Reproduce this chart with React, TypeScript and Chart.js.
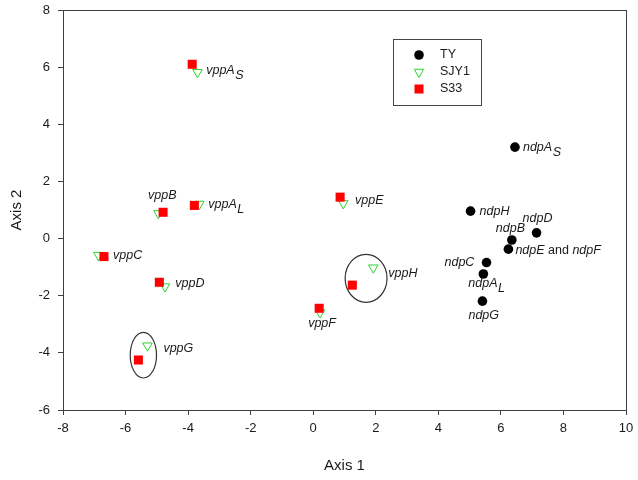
import React, { useEffect, useRef } from 'react';
import { Chart, registerables } from 'chart.js';
Chart.register(...registerables);

const seriesNames = ['TY', 'SJY1', 'S33'];

// TY (ndp genes)
const tyLabels = ['ndpA_S', 'ndpH', 'ndpD', 'ndpB', 'ndpE and ndpF', 'ndpC', 'ndpA_L', 'ndpG'];
const tyX = [6.45, 5.03, 7.14, 6.35, 6.24, 5.54, 5.44, 5.41];
const tyY = [3.2, 0.96, 0.2, -0.05, -0.37, -0.84, -1.24, -2.19];

// vpp genes (SJY1 and S33 share labels)
const vppLabels = ['vppA_S', 'vppB', 'vppA_L', 'vppE', 'vppC', 'vppD', 'vppG', 'vppF', 'vppH'];
const sjyX = [-3.7, -4.95, -3.64, 0.96, -6.87, -4.74, -5.3, 0.22, 1.92];
const sjyY = [5.82, 0.88, 1.21, 1.23, -0.58, -1.68, -3.75, -2.59, -1.02];
const s33X = [-3.87, -4.8, -3.8, 0.86, -6.69, -4.92, -5.59, 0.19, 1.25];
const s33Y = [6.1, 0.92, 1.16, 1.45, -0.63, -1.53, -4.25, -2.44, -1.63];

// ellipses (data units)
const ellipseCX = [-5.43, 1.69];
const ellipseCY = [-4.08, -1.39];
const ellipseRX = [0.42, 0.67];
const ellipseRY = [0.8, 0.84];

const xMin = -8, xMax = 10, yMin = -6, yMax = 8, tickStep = 2;
const xTitle = 'Axis 1';
const yTitle = 'Axis 2';

// label pixel offsets from their point
const tyLabelDX = [8, 9, -14, -16, 7, -42, -15, -14];
const tyLabelDY = [0, 0, -14, -11, 1, 0, 10, 14];
const vppLabelDX = [14, -15, 14, 15, 9, 16, 25, -11, 36];
const vppLabelDY = [6, -17, -1, 3, -1, 1, -11, 15, -12];

const FONT = '"Liberation Sans", Arial, sans-serif';
const TEXT = '#1a1a1a';
const AXIS = '#404040';
const GREEN = '#2bd42b';
const RED = '#ff0000';
const LABEL_SIZE = 12.5;

function drawLabel(ctx: CanvasRenderingContext2D, text: string, x: number, y: number) {
  ctx.save();
  ctx.textBaseline = 'middle';
  ctx.textAlign = 'left';
  ctx.fillStyle = TEXT;
  const words = text.split(' ');
  let cx = x;
  words.forEach((w, i) => {
    const part = (i > 0 ? ' ' : '') + w;
    if (w === 'and') {
      ctx.font = `${LABEL_SIZE}px ${FONT}`;
      ctx.fillText(part, cx, y);
      cx += ctx.measureText(part).width;
      return;
    }
    ctx.font = `italic ${LABEL_SIZE}px ${FONT}`;
    const [main, sub] = part.split('_');
    ctx.fillText(main, cx, y);
    cx += ctx.measureText(main).width;
    if (sub) {
      ctx.fillText(sub, cx + 0.5, y + 5);
      cx += ctx.measureText(sub).width + 0.5;
    }
  });
  ctx.restore();
}

function drawMarker(ctx: CanvasRenderingContext2D, kind: number, x: number, y: number) {
  ctx.save();
  if (kind === 0) {
    ctx.fillStyle = '#000';
    ctx.beginPath();
    ctx.arc(x, y, 4.8, 0, Math.PI * 2);
    ctx.fill();
  } else if (kind === 1) {
    const r = 5.5;
    ctx.strokeStyle = GREEN;
    ctx.lineWidth = 1;
    ctx.beginPath();
    ctx.moveTo(x, y + r);
    ctx.lineTo(x - r * 0.866, y - r / 2);
    ctx.lineTo(x + r * 0.866, y - r / 2);
    ctx.closePath();
    ctx.stroke();
  } else {
    ctx.fillStyle = RED;
    ctx.fillRect(x - 4.5, y - 4.5, 9, 9);
  }
  ctx.restore();
}

const overlayPlugin = {
  id: 'overlay',
  beforeDatasetsDraw(chart: any) {
    const { ctx, scales } = chart;
    const xs = scales.x, ys = scales.y;
    ctx.save();
    ctx.strokeStyle = '#333';
    ctx.lineWidth = 1.2;
    for (let i = 0; i < ellipseCX.length; i++) {
      const cx = xs.getPixelForValue(ellipseCX[i]);
      const cy = ys.getPixelForValue(ellipseCY[i]);
      const rx = Math.abs(xs.getPixelForValue(ellipseCX[i] + ellipseRX[i]) - cx);
      const ry = Math.abs(ys.getPixelForValue(ellipseCY[i] + ellipseRY[i]) - cy);
      ctx.beginPath();
      ctx.ellipse(cx, cy, rx, ry, 0, 0, Math.PI * 2);
      ctx.stroke();
    }
    ctx.restore();
  },
  afterDraw(chart: any) {
    const { ctx, scales, chartArea } = chart;
    const xs = scales.x, ys = scales.y;
    // frame
    ctx.save();
    ctx.strokeStyle = AXIS;
    ctx.lineWidth = 1;
    ctx.strokeRect(Math.round(chartArea.left) + 0.5, Math.round(chartArea.top) + 0.5,
      Math.round(chartArea.right - chartArea.left), Math.round(chartArea.bottom - chartArea.top));
    ctx.restore();
    // point labels
    tyLabels.forEach((t, i) => {
      drawLabel(ctx, t, xs.getPixelForValue(tyX[i]) + tyLabelDX[i], ys.getPixelForValue(tyY[i]) + tyLabelDY[i]);
    });
    vppLabels.forEach((t, i) => {
      drawLabel(ctx, t, xs.getPixelForValue(s33X[i]) + vppLabelDX[i], ys.getPixelForValue(s33Y[i]) + vppLabelDY[i]);
    });
    // axis titles
    ctx.save();
    ctx.fillStyle = TEXT;
    ctx.font = `15px ${FONT}`;
    ctx.textAlign = 'center';
    ctx.textBaseline = 'middle';
    ctx.fillText(xTitle, (chartArea.left + chartArea.right) / 2, 466);
    ctx.translate(17, (chartArea.top + chartArea.bottom) / 2);
    ctx.rotate(-Math.PI / 2);
    ctx.fillText(yTitle, 0, 0);
    ctx.restore();
    // legend
    ctx.save();
    ctx.strokeStyle = '#444';
    ctx.lineWidth = 1;
    ctx.strokeRect(393.5, 39.5, 88, 66);
    ctx.font = `12.5px ${FONT}`;
    ctx.fillStyle = TEXT;
    ctx.textBaseline = 'middle';
    ctx.textAlign = 'left';
    seriesNames.forEach((n, i) => {
      const y = 55 + i * 17;
      drawMarker(ctx, i, 419, y);
      ctx.fillText(n, 440, y);
    });
    ctx.restore();
  },
};

export default function App() {
  const ref = useRef<HTMLCanvasElement>(null);
  useEffect(() => {
    if (!ref.current) return;
    const tickFont = { family: FONT, size: 13 };
    const chart = new Chart(ref.current, {
      type: 'scatter',
      data: {
        datasets: [
          {
            label: seriesNames[0],
            data: tyX.map((x, i) => ({ x, y: tyY[i] })),
            pointStyle: 'circle',
            pointRadius: 4.8,
            backgroundColor: '#000',
            borderColor: '#000',
            borderWidth: 0,
            order: 3,
          },
          {
            label: seriesNames[1],
            data: sjyX.map((x, i) => ({ x, y: sjyY[i] })),
            pointStyle: 'triangle',
            rotation: 180,
            pointRadius: 5.5,
            backgroundColor: 'rgba(0,0,0,0)',
            borderColor: GREEN,
            borderWidth: 1,
            order: 2,
          },
          {
            label: seriesNames[2],
            data: s33X.map((x, i) => ({ x, y: s33Y[i] })),
            pointStyle: 'rect',
            pointRadius: 6.4,
            backgroundColor: RED,
            borderColor: RED,
            borderWidth: 0,
            order: 1,
          },
        ],
      },
      options: {
        animation: false,
        responsive: false,
        devicePixelRatio: 1,
        layout: { padding: { left: 0, top: 10, right: 12, bottom: 0 } },
        plugins: { legend: { display: false }, tooltip: { enabled: false } },
        scales: {
          x: {
            type: 'linear',
            position: 'bottom',
            min: xMin,
            max: xMax,
            ticks: { stepSize: tickStep, font: tickFont, color: TEXT, padding: 6, maxRotation: 0 },
            grid: { drawOnChartArea: false, drawTicks: true, tickLength: 5, color: AXIS },
            border: { display: true, color: AXIS },
            afterFit: (s: any) => { s.height = 70; s.paddingLeft = 0; s.paddingRight = 0; },
          },
          y: {
            type: 'linear',
            position: 'left',
            min: yMin,
            max: yMax,
            ticks: { stepSize: tickStep, font: tickFont, color: TEXT, padding: 8 },
            grid: { drawOnChartArea: false, drawTicks: true, tickLength: 5, color: AXIS },
            border: { display: true, color: AXIS },
            afterFit: (s: any) => { s.width = 63; s.paddingTop = 0; s.paddingBottom = 0; },
          },
        },
      },
      plugins: [overlayPlugin],
    } as any);
    return () => chart.destroy();
  }, []);
  return (
    <div style={{ position: 'fixed', left: 0, top: 0, width: 638, height: 480, background: '#fff' }}>
      <canvas ref={ref} width={638} height={480} />
    </div>
  );
}
